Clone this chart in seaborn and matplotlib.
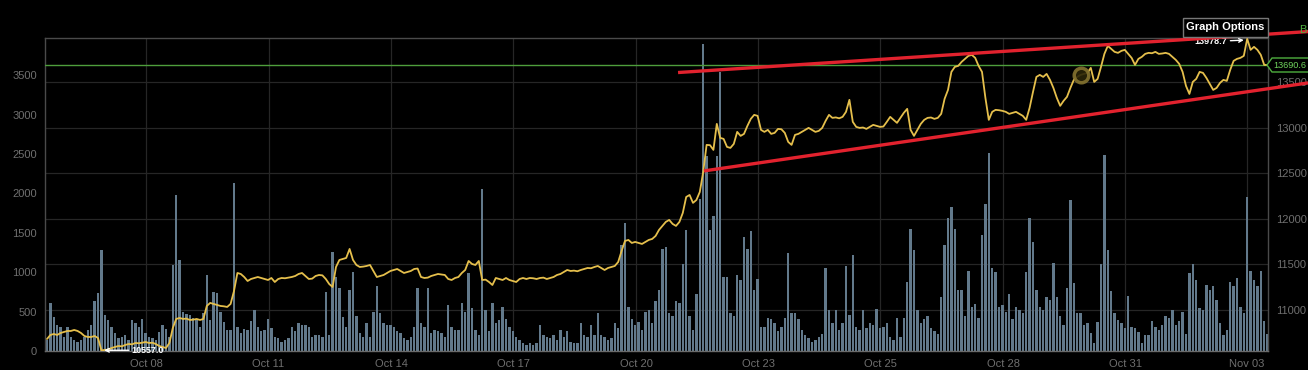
import numpy as np
import pandas as pd
import seaborn as sns
import matplotlib.pyplot as plt
from matplotlib.patches import Polygon, Rectangle

sns.set_style("dark", {"axes.facecolor": "black", "figure.facecolor": "black"})
plt.rcParams['font.family'] = ['Liberation Sans', 'DejaVu Sans']

# 2-hour volume bars (BTC)
volume = [
    140, 610, 430, 330, 300, 180, 300, 180, 140, 110,
    140, 180, 270, 330, 635, 735, 1280, 460, 390, 300,
    230, 170, 180, 200, 140, 390, 355, 300, 400, 230,
    180, 160, 140, 240, 330, 280, 180, 1090, 1980, 1150,
    490, 470, 460, 420, 390, 300, 480, 960, 390, 750,
    740, 490, 370, 270, 270, 2130, 300, 230, 280, 270,
    380, 520,
    310, 250, 270, 400, 290, 180, 160, 120, 140, 160,
    310, 250, 350, 335, 335, 310, 180, 200, 200, 180,
    750, 200, 1260, 940, 800, 435, 310, 770, 1000, 450,
    225, 180, 350, 180, 500, 820, 480, 350, 335, 335,
    310, 250, 225, 160, 140, 180, 310, 800, 350, 310,
    800, 225, 270, 250, 225, 180, 590, 310, 270, 270,
    605, 500, 990, 540, 270, 200, 2060, 520, 250, 605,
    350, 390, 560, 410, 310, 250, 180, 140, 100, 80,
    100, 80, 100, 335, 200, 180, 160, 200, 140, 270,
    180, 250, 120, 100, 100, 350, 200, 180, 335, 200,
    480, 200, 180, 140, 160, 350, 290, 1345, 1620, 560,
    410, 335, 370, 270, 500, 520, 350, 640,
    775, 1290, 1320, 480, 440, 630, 610, 1110, 1530, 440,
    270, 730, 1930, 3900, 2470, 1530, 1710, 2470, 3540, 940,
    940, 480, 440, 965, 900, 1450, 1290, 1520, 775, 920,
    310, 310, 420, 400, 355, 250, 310, 420, 1240, 480,
    480, 400, 270, 200, 160, 120, 140, 180, 220, 1050,
    520, 355, 520, 270, 355, 1080, 460, 1220, 310, 270,
    520, 290,
    350, 330, 530, 290, 310, 350, 180, 140, 420, 180,
    420, 880, 1555, 1280, 520, 350, 400, 440, 290, 260,
    220, 690, 1340, 1685, 1830, 1555, 775, 775, 440, 1010,
    560, 600, 420, 1470, 1870, 2520, 1050, 1000, 560, 580,
    500, 720, 400, 560, 520, 480, 1000, 1685, 1385, 775,
    560, 520, 690, 650, 1115, 690, 440, 330, 795, 1920,
    860, 480, 480, 330, 350, 225, 100, 370, 1100, 2490,
    1280, 760, 480, 390, 350, 290, 700, 310, 290, 245,
    100, 200,
    200, 380, 310, 270, 330, 440, 415, 520, 330, 380,
    500, 210, 985, 1110, 900, 540, 520, 840, 780, 820,
    650, 355, 200, 270, 880, 820, 930, 560, 480, 1960,
    1010, 900, 820, 1010, 380, 210,
]

# BTC/USD close per 2-hour bar
price = [
    10681, 10725, 10736, 10725, 10747, 10758, 10769, 10769, 10780, 10769,
    10747, 10714, 10703, 10703, 10714, 10692, 10557.0, 10560, 10565, 10582,
    10593, 10604, 10600, 10615, 10626, 10622, 10637, 10634, 10640, 10648,
    10637, 10640, 10626, 10604, 10593, 10582, 10637, 10802, 10901, 10912,
    10901, 10905, 10890, 10893, 10901, 10890, 10901, 11044, 11077, 11066,
    11055, 11044, 11040, 11033, 11066, 11208, 11406, 11395, 11362, 11318,
    11340, 11351,
    11362, 11351, 11340, 11329, 11351, 11307, 11340, 11351, 11348, 11355,
    11362, 11373, 11395, 11406, 11373, 11340, 11344, 11373, 11384, 11380,
    11340, 11285, 11252, 11472, 11549, 11560, 11571, 11670, 11549, 11494,
    11472, 11476, 11483, 11494, 11428, 11362, 11373, 11384, 11406, 11428,
    11439, 11450, 11428, 11406, 11417, 11428, 11450, 11455, 11362, 11351,
    11355, 11373, 11384, 11395, 11390, 11384, 11340, 11329, 11351, 11362,
    11406, 11439, 11538, 11505, 11494, 11538, 11329, 11333, 11307, 11274,
    11351, 11340, 11329, 11351, 11329, 11318, 11307, 11340, 11351, 11340,
    11351, 11348, 11340, 11351, 11355, 11340, 11351, 11362, 11384, 11395,
    11417, 11439, 11428, 11432, 11425, 11439, 11450, 11461, 11458, 11472,
    11483, 11461, 11439, 11461, 11472, 11483, 11527, 11648, 11758, 11769,
    11736, 11747, 11736, 11725, 11747, 11769, 11780, 11813,
    11879, 11923, 11967, 11989, 11945, 11923, 11967, 12066, 12241, 12263,
    12176, 12208, 12296, 12516, 12813, 12810, 12758, 13044, 12890, 12879,
    12791, 12780, 12824, 12956, 12912, 12934, 13022, 13099, 13143, 13132,
    12978, 12956, 12978, 12934, 12945, 12989, 12985, 12945, 12846, 12813,
    12923, 12934, 12956, 12978, 13000, 12978, 12956, 12967, 13000, 13077,
    13143, 13110, 13115, 13105, 13121, 13176, 13308, 13066, 13011, 13000,
    13004, 12989,
    13011, 13033, 13022, 13011, 13015, 13066, 13121, 13088, 13055, 13110,
    13165, 13209, 12978, 12912, 12978, 13044, 13088, 13110, 13114, 13099,
    13110, 13154, 13319, 13417, 13615, 13670, 13681, 13725, 13758, 13791,
    13802, 13769, 13681, 13615, 13330, 13088, 13176, 13198, 13194, 13187,
    13176, 13154, 13165, 13176, 13154, 13132, 13088, 13220, 13395, 13560,
    13582, 13560, 13593, 13527, 13439, 13330, 13242, 13297, 13341, 13439,
    13527, 13560, 13582, 13593, 13604, 13659, 13505, 13538, 13670, 13813,
    13901, 13868, 13835, 13824, 13846, 13857, 13813, 13769, 13692, 13758,
    13780, 13813,
    13824, 13820, 13835, 13813, 13817, 13824, 13813, 13780, 13747, 13703,
    13615, 13461, 13373, 13505, 13538, 13615, 13604, 13549, 13483, 13417,
    13439, 13494, 13527, 13516, 13637, 13736, 13758, 13769, 13791, 13978.7,
    13857, 13890, 13857, 13802, 13692, 13690.6,
]

date_labels = ['Oct 08', 'Oct 11', 'Oct 14', 'Oct 17', 'Oct 20',
               'Oct 23', 'Oct 25', 'Oct 28', 'Oct 31', 'Nov 03']
volume_ticks = [0, 500, 1000, 1500, 2000, 2500, 3000, 3500]
price_ticks = [11000, 11500, 12000, 12500, 13000, 13500]
last_price = 13690.6
low_price = 10557.0
high_price = 13978.7

# hand-drawn wedge (bar index, price)
upper_trend_x = [185.6, 370.9]
upper_trend_y = [13608, 14058]
lower_trend_x = [193.2, 370.9]
lower_trend_y = [12527, 13494]

assert len(volume) == len(price)
n = len(volume)
idx = np.arange(n)
df = pd.DataFrame({'bar': idx, 'volume': volume, 'price': price})

W, H = 1308, 370
fig = plt.figure(figsize=(W / 100, H / 100), dpi=100, facecolor='black')
x0, x1, y0, y1 = 45.3, 1268, 38.3, 351
ax = fig.add_axes([x0 / W, 1 - y1 / H, (x1 - x0) / W, (y1 - y0) / H])

vol_max = 3970
p_lo, p_hi = 10549, 13984

sns.barplot(data=df, x='bar', y='volume', native_scale=True, color='#62798b',
            saturation=1, width=0.72, linewidth=0, errorbar=None, ax=ax)

def px_to_bar(px):
    return (px - 47) / 3.4

ax.set_xlim(px_to_bar(x0), px_to_bar(x1))
ax.set_ylim(0, vol_max)
tick_px = [146, 268.5, 391, 513, 636, 758, 880, 1003, 1125, 1247]
ax.set_xticks([px_to_bar(p) for p in tick_px])
ax.set_xticklabels(date_labels)
ax.set_yticks(volume_ticks)
ax.set_yticks([(p - p_lo) / (p_hi - p_lo) * vol_max for p in price_ticks], minor=True)
ax.tick_params(colors='#6f6f6f', labelsize=8, length=0, pad=6, which='both')
ax.tick_params(axis='y', which='minor', labelleft=False)
ax.grid(axis='x', which='major', color='#262626', lw=0.9)
ax.grid(axis='y', which='minor', color='#262626', lw=0.9)
ax.grid(axis='y', which='major', visible=False)
ax.set_axisbelow(True)
ax.set_xlabel('')
ax.set_ylabel('')
for s in ax.spines.values():
    s.set_color('#4a4a4a')
    s.set_linewidth(1)
ax.spines['bottom'].set_color('#6a6a6a')

ax2 = ax.twinx()
ax2.set_ylim(p_lo, p_hi)
ax2.axhline(last_price, color='#4e9e3c', lw=1)
sns.lineplot(data=df, x='bar', y='price', color='#e5bf4c', lw=1.3, ax=ax2)
ax2.set_xlim(ax.get_xlim())
ax2.set_yticks(price_ticks)
ax2.tick_params(colors='#6f6f6f', labelsize=8, length=0, pad=6)
ax2.set_ylabel('')
ax2.grid(False)
for s in ax2.spines.values():
    s.set_visible(False)

ax2.plot(upper_trend_x, upper_trend_y, color='#e2222e', lw=2.4, clip_on=False,
         solid_capstyle='butt', zorder=5)
ax2.plot(lower_trend_x, lower_trend_y, color='#e2222e', lw=2.4, clip_on=False,
         solid_capstyle='butt', zorder=5)

# cursor ring
ax2.scatter([304], [price[304]], s=110, facecolor='#2a2408', edgecolor='#857330',
            linewidth=2.5, zorder=6, alpha=0.9)

# low / high labels
low_i = price.index(low_price)
ax2.annotate(f'{low_price:.1f}', xy=(low_i + 0.8, low_price), xytext=(20, 0),
             textcoords='offset points', va='center', ha='left', color='white',
             fontsize=6.5, fontweight='bold',
             arrowprops=dict(arrowstyle='->', color='white', lw=1,
                             shrinkA=0, shrinkB=0))
high_i = price.index(high_price)
ax2.annotate(f'{high_price:.1f}', xy=(high_i - 1, high_price - 15), xytext=(-12, -1),
             textcoords='offset points', va='center', ha='right', color='white',
             fontsize=6.5, fontweight='bold', annotation_clip=False,
             arrowprops=dict(arrowstyle='->', color='white', lw=1,
                             shrinkA=0, shrinkB=0))

# last price tag
def fx(px):
    return px / W

def fy(py):
    return 1 - py / H

tag = Polygon([(fx(1267), fy(65)), (fx(1272), fy(58)), (fx(1312), fy(58)),
               (fx(1312), fy(72)), (fx(1272), fy(72))], closed=True,
              transform=fig.transFigure, facecolor='black', edgecolor='#4fae3f',
              lw=1, zorder=10)
fig.patches.append(tag)
fig.text(fx(1273), fy(65.5), f'{last_price}', color='#6fd35c', fontsize=6.6,
         va='center', ha='left', zorder=11)

# graph options button
btn = Rectangle((fx(1183), fy(37)), fx(1268) - fx(1183), fy(18) - fy(37),
                transform=fig.transFigure, facecolor='black', edgecolor='#777777',
                lw=1, zorder=10)
fig.patches.append(btn)
fig.text(fx(1225.5), fy(27.5), 'Graph Options', color='white', fontsize=8,
         fontweight='bold', ha='center', va='center', zorder=11)
fig.text(fx(1299), fy(30), 'B', color='#4fae3f', fontsize=8, ha='left',
         va='center')

fig.savefig('out.png', dpi=100, facecolor='black')
